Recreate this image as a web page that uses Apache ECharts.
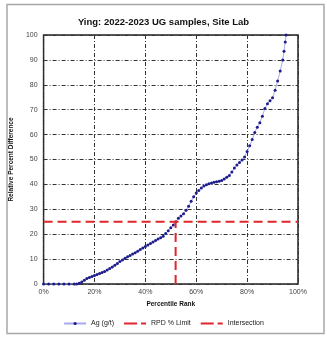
<!DOCTYPE html>
<html>
<head>
<meta charset="utf-8">
<script src="https://cdn.jsdelivr.net/npm/echarts@6/dist/echarts.min.js"></script>
<style>
  html, body { margin: 0; padding: 0; background: #fff; }
  #chart { width: 327px; height: 342px; }
</style>
</head>
<body>
<div id="chart"></div>
<script>
// Percentile rank (%) of each sample pair
const rankPct = [
  0, 2, 4, 6, 8, 10, 12, 13, 14, 15, 16, 17, 18, 19, 20, 21, 22, 23, 24, 25,
  26, 27, 28, 29, 30, 31, 32, 33, 34, 35, 36, 37, 38, 39, 40, 41, 42, 43, 44, 45,
  46, 47, 48, 49, 50, 51, 52, 53, 54, 55, 56, 57, 58, 59, 60, 61, 62, 63, 64, 65,
  66, 67, 68, 69, 70, 71, 72, 73, 74, 75, 76, 77, 78, 79, 80, 81, 82, 83, 84, 85,
  86, 87, 88, 89, 90, 91, 92, 93, 94, 94.5, 95, 95.3
];
// Relative percent difference (%) for Ag (g/t)
const rpd = [
  0, 0, 0, 0, 0, 0, 0, 0, 0.3, 0.8, 1.5, 2.2, 2.6, 3.0, 3.4, 3.8, 4.2, 4.6, 5.0, 5.6,
  6.2, 6.8, 7.5, 8.2, 9.0, 9.6, 10.3, 10.9, 11.4, 12.0, 12.6, 13.2, 13.9, 14.5, 15.1, 15.7, 16.3, 16.9, 17.5, 18.1,
  18.6, 19.2, 20.3, 21.4, 22.6, 23.7, 25.0, 26.4, 27.3, 28.2, 29.6, 31.2, 33.2, 35.0, 36.5, 37.6, 38.6, 39.4, 39.9, 40.3,
  40.6, 40.9, 41.1, 41.3, 41.6, 42.2, 42.9, 43.6, 45.0, 46.6, 47.8, 48.8, 49.8, 51.0, 53.2, 55.5, 58.0, 60.8, 63.0, 64.8,
  67.4, 70.5, 72.4, 73.6, 74.8, 77.8, 81.5, 85.5, 90.0, 93.5, 97.2, 100
];
const rpdLimit = 25;           // RPD % limit
const intersectionRank = 51.9; // rank where the curve crosses the limit
const xTicks = [0, 20, 40, 60, 80, 100];

const seriesNames = ['Ag (g/t)', 'RPD % Limit', 'Intersection'];

const chart = echarts.init(document.getElementById('chart'), null, { renderer: 'canvas' });

const gridStyle = { color: '#333', width: 1, type: [4, 2, 1, 2] };
const font = 'Liberation Sans, Arial, sans-serif';
const red = '#e0252b';
// long dash + short dash legend swatch
const dashIcon = 'path://M0,0H13V2H0Z M17,0H22V2H17Z';

chart.setOption({
  animation: false,
  backgroundColor: '#fff',
  textStyle: { fontFamily: font },
  title: {
    text: 'Ying: 2022-2023 UG samples, Site Lab',
    left: 'center',
    top: 12,
    textStyle: { fontSize: 9.5, fontWeight: 'bold', color: '#111', fontFamily: font }
  },
  grid: {
    left: 34, top: 35, width: 264, height: 249,
    show: true, borderColor: '#222', borderWidth: 1.5, backgroundColor: 'transparent'
  },
  legend: {
    bottom: 10,
    left: 'center',
    itemWidth: 22,
    itemHeight: 4,
    itemGap: 10,
    symbolKeepAspect: true,
    textStyle: { fontSize: 7, color: '#222', fontFamily: font },
    data: [
      { name: seriesNames[0] },
      { name: seriesNames[1], icon: dashIcon },
      { name: seriesNames[2], icon: dashIcon }
    ]
  },
  xAxis: {
    type: 'value',
    min: 0, max: 100, interval: 20,
    name: 'Percentile Rank',
    nameLocation: 'middle',
    nameGap: 16,
    nameTextStyle: { fontSize: 6.5, fontWeight: 'bold', color: '#111' },
    axisLine: { show: false },
    axisTick: { show: false },
    axisLabel: {
      fontSize: 7, color: '#444', margin: 5,
      formatter: v => xTicks.includes(v) ? v + '%' : ''
    },
    splitLine: { show: true, lineStyle: gridStyle }
  },
  yAxis: {
    type: 'value',
    min: 0, max: 100, interval: 10,
    name: 'Relative Percent Difference',
    nameLocation: 'middle',
    nameGap: 20,
    nameTextStyle: { fontSize: 6.5, fontWeight: 'bold', color: '#111' },
    axisLine: { show: false },
    axisTick: { show: false },
    axisLabel: { fontSize: 7, color: '#444', margin: 6 },
    splitLine: { show: true, lineStyle: gridStyle }
  },
  graphic: [{
    type: 'rect',
    shape: { x: 7, y: 4.5, width: 317, height: 329 },
    style: { fill: 'none', stroke: '#a8a8a8', lineWidth: 1.5 },
    silent: true
  }],
  series: [
    {
      name: seriesNames[0],
      type: 'line',
      data: rankPct.map((r, i) => [r, rpd[i]]),
      clip: true,
      symbol: 'circle',
      symbolSize: 3,
      showAllSymbol: true,
      itemStyle: { color: '#1c1c8a' },
      lineStyle: { color: '#a9a9ee', width: 1 },
      z: 3
    },
    {
      name: seriesNames[1],
      type: 'line',
      data: [[0, rpdLimit], [100, rpdLimit]],
      symbol: 'none',
      itemStyle: { color: red },
      lineStyle: { color: red, width: 2, type: [9, 5] },
      z: 4
    },
    {
      name: seriesNames[2],
      type: 'line',
      data: [[intersectionRank, 0], [intersectionRank, rpdLimit]],
      symbol: 'none',
      itemStyle: { color: red },
      lineStyle: { color: red, width: 2, type: [9, 5] },
      z: 4
    }
  ]
});
</script>
</body>
</html>
